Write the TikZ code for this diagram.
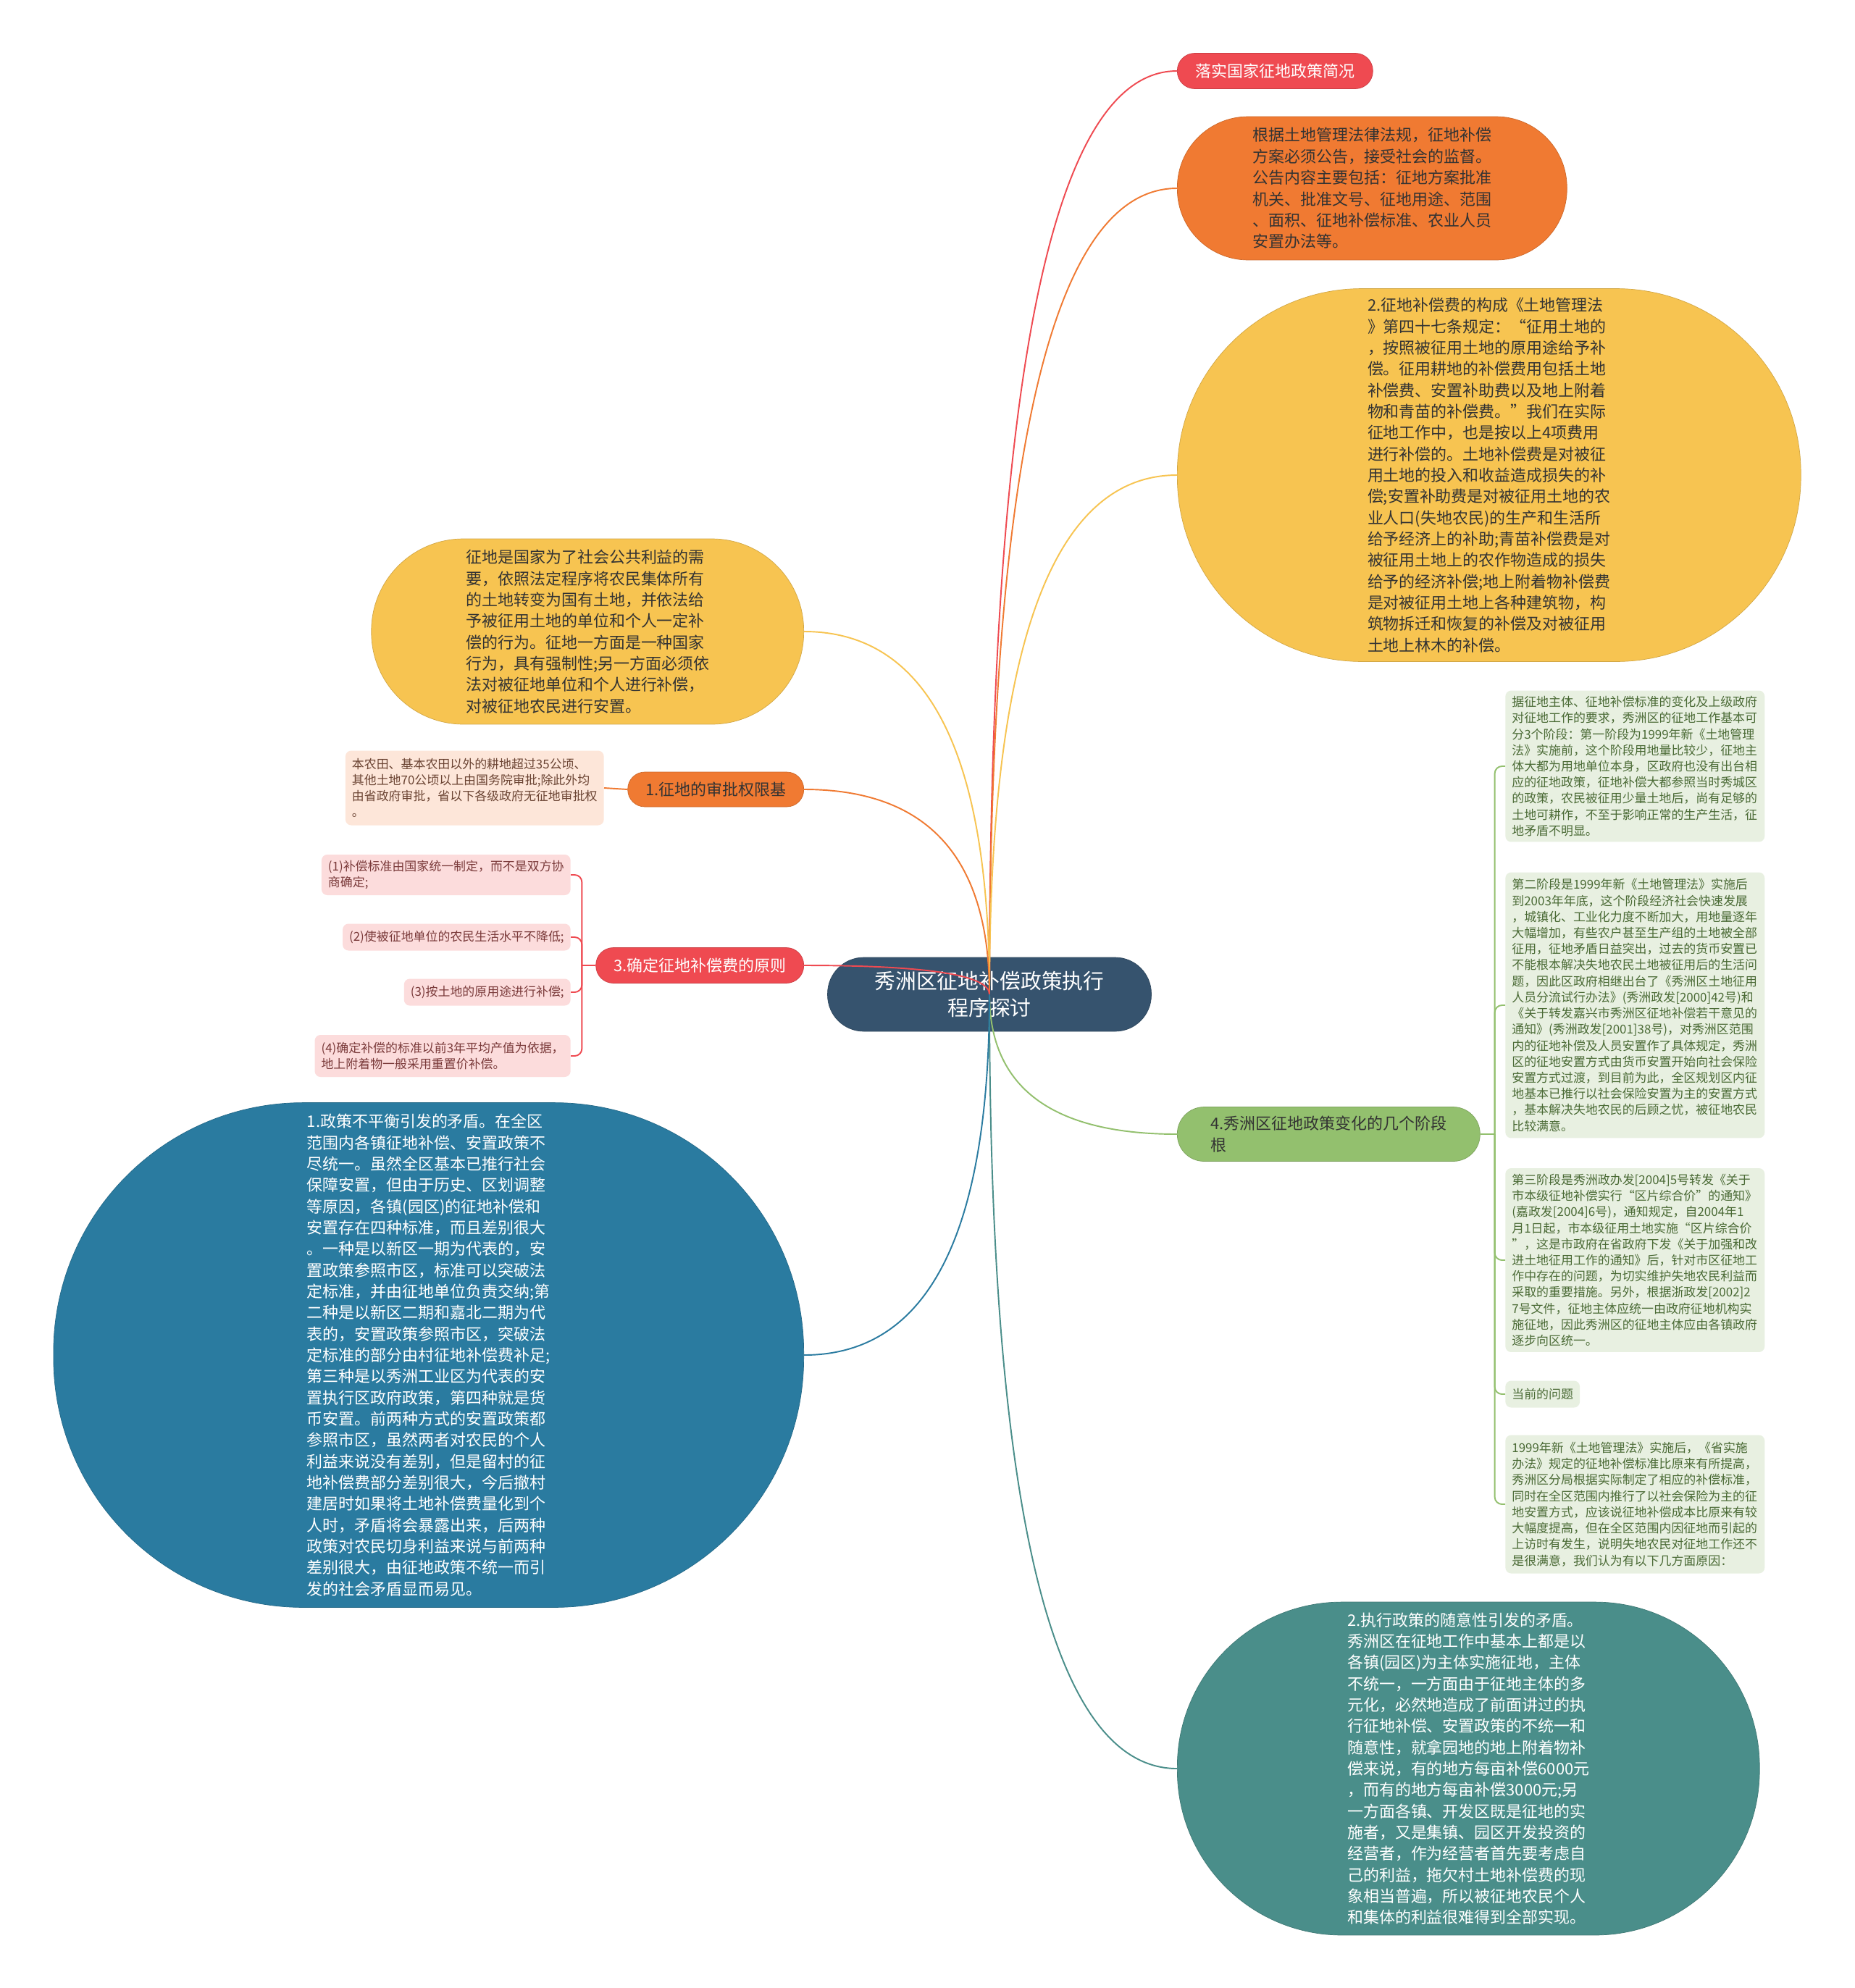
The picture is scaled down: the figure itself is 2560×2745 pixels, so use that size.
\documentclass[tikz,border=0pt]{standalone}
\usepackage{fontspec}
\setmainfont{Noto Sans CJK SC}
\usetikzlibrary{calc}

\definecolor{rootblue}{HTML}{36536E}
\definecolor{redc}{HTML}{EF4A51}
\definecolor{orangec}{HTML}{F07A32}
\definecolor{yellowc}{HTML}{F7C451}
\definecolor{greenc}{HTML}{93C06E}
\definecolor{tealc}{HTML}{4A8E8A}
\definecolor{bluec}{HTML}{2A7BA0}
\definecolor{peachc}{HTML}{FDE6D9}
\definecolor{pinkc}{HTML}{FCDCDC}
\definecolor{notegreen}{HTML}{E8F0E1}
\definecolor{peachtext}{HTML}{6B4433}
\definecolor{pinktext}{HTML}{7A3A3A}
\definecolor{greentext}{HTML}{4A6A35}

\tikzset{
  topic/.style={rectangle, inner sep=0pt, align=left, text=black!80,
    font=\fontsize{12.5}{16.7}\selectfont},
  bubble/.style={topic, fill=#1, draw=#1!85!black, line width=0.4pt},
  note/.style={rectangle, rounded corners=0.16cm, inner xsep=0.18cm, inner ysep=0pt,
    align=left, fill=#1, font=\fontsize{9.64}{12.64}\selectfont},
  link/.style={line width=1.1pt, draw=#1},
}

\begin{document}
\begin{tikzpicture}[x=0.02cm, y=-0.02cm]
  \path[use as bounding box, fill=white] (0,0) rectangle (2560,2745);

  % central topic
  \node[bubble=rootblue, text=white, align=center, font=\fontsize{16.4}{21}\selectfont,
    minimum width=8.94cm, minimum height=2.04cm, rounded corners=1.0cm] (root) at (1366,1373)
    {秀洲区征地补偿政策执行\\程序探讨};

  % right branches
  \node[bubble=redc, text=white, minimum width=5.4cm, minimum height=0.98cm,
    rounded corners=0.48cm, anchor=west] (fact) at (1625,98) {落实国家征地政策简况};
  \node[bubble=orangec, minimum width=10.76cm, minimum height=3.96cm,
    rounded corners=1.96cm, anchor=west] (notice) at (1625,260)
    {根据土地管理法律法规，征地补偿\\
     方案必须公告，接受社会的监督。\\
     公告内容主要包括：征地方案批准\\
     机关、批准文号、征地用途、范围\\
     、面积、征地补偿标准、农业人员\\
     安置办法等。};
  \node[bubble=yellowc, minimum width=17.22cm, minimum height=10.3cm,
    rounded corners=5.1cm, anchor=west] (costs) at (1625,656)
    {2.征地补偿费的构成《土地管理法\\
     》第四十七条规定：“征用土地的\\
     ，按照被征用土地的原用途给予补\\
     偿。征用耕地的补偿费用包括土地\\
     补偿费、安置补助费以及地上附着\\
     物和青苗的补偿费。”我们在实际\\
     征地工作中，也是按以上4项费用\\
     进行补偿的。土地补偿费是对被征\\
     用土地的投入和收益造成损失的补\\
     偿;安置补助费是对被征用土地的农\\
     业人口(失地农民)的生产和生活所\\
     给予经济上的补助;青苗补偿费是对\\
     被征用土地上的农作物造成的损失\\
     给予的经济补偿;地上附着物补偿费\\
     是对被征用土地上各种建筑物，构\\
     筑物拆迁和恢复的补偿及对被征用\\
     土地上林木的补偿。};
  \node[bubble=greenc, minimum width=8.36cm, minimum height=1.5cm,
    rounded corners=0.74cm, anchor=west] (stages) at (1625,1566)
    {4.秀洲区征地政策变化的几个阶段\\根};
  \node[bubble=tealc, text=white, minimum width=16.08cm, minimum height=9.2cm,
    rounded corners=4.55cm, anchor=west] (random) at (1625,2442)
    {2.执行政策的随意性引发的矛盾。\\
     秀洲区在征地工作中基本上都是以\\
     各镇(园区)为主体实施征地，主体\\
     不统一，一方面由于征地主体的多\\
     元化，必然地造成了前面讲过的执\\
     行征地补偿、安置政策的不统一和\\
     随意性，就拿园地的地上附着物补\\
     偿来说，有的地方每亩补偿6000元\\
     ，而有的地方每亩补偿3000元;另\\
     一方面各镇、开发区既是征地的实\\
     施者，又是集镇、园区开发投资的\\
     经营者，作为经营者首先要考虑自\\
     己的利益，拖欠村土地补偿费的现\\
     象相当普遍，所以被征地农民个人\\
     和集体的利益很难得到全部实现。};

  % left branches
  \node[bubble=yellowc, minimum width=11.94cm, minimum height=5.12cm,
    rounded corners=2.54cm, anchor=east] (define) at (1110,872)
    {征地是国家为了社会公共利益的需\\
     要，依照法定程序将农民集体所有\\
     的土地转变为国有土地，并依法给\\
     予被征用土地的单位和个人一定补\\
     偿的行为。征地一方面是一种国家\\
     行为，具有强制性;另一方面必须依\\
     法对被征地单位和个人进行补偿，\\
     对被征地农民进行安置。};
  \node[bubble=orangec, minimum width=4.86cm, minimum height=0.96cm,
    rounded corners=0.47cm, anchor=east] (approve) at (1110,1090) {1.征地的审批权限基};
  \node[bubble=redc, text=white, minimum width=5.74cm, minimum height=0.98cm,
    rounded corners=0.48cm, anchor=east] (principle) at (1110,1333) {3.确定征地补偿费的原则};
  \node[bubble=bluec, text=white, minimum width=20.72cm, minimum height=13.94cm,
    rounded corners=6.9cm, anchor=east] (imbalance) at (1110,1871)
    {1.政策不平衡引发的矛盾。在全区\\
     范围内各镇征地补偿、安置政策不\\
     尽统一。虽然全区基本已推行社会\\
     保障安置，但由于历史、区划调整\\
     等原因，各镇(园区)的征地补偿和\\
     安置存在四种标准，而且差别很大\\
     。一种是以新区一期为代表的，安\\
     置政策参照市区，标准可以突破法\\
     定标准，并由征地单位负责交纳;第\\
     二种是以新区二期和嘉北二期为代\\
     表的，安置政策参照市区，突破法\\
     定标准的部分由村征地补偿费补足;\\
     第三种是以秀洲工业区为代表的安\\
     置执行区政府政策，第四种就是货\\
     币安置。前两种方式的安置政策都\\
     参照市区，虽然两者对农民的个人\\
     利益来说没有差别，但是留村的征\\
     地补偿费部分差别很大，今后撤村\\
     建居时如果将土地补偿费量化到个\\
     人时，矛盾将会暴露出来，后两种\\
     政策对农民切身利益来说与前两种\\
     差别很大，由征地政策不统一而引\\
     发的社会矛盾显而易见。};

  % detail notes
  \node[note=peachc, text=peachtext, minimum height=2.06cm, anchor=east] (approvenote) at (834,1088)
    {本农田、基本农田以外的耕地超过35公顷、\\
     其他土地70公顷以上由国务院审批;除此外均\\
     由省政府审批，省以下各级政府无征地审批权\\
     。};
  \node[note=pinkc, text=pinktext, minimum height=1.12cm, anchor=east] (p1) at (788,1208)
    {(1)补偿标准由国家统一制定，而不是双方协\\商确定;};
  \node[note=pinkc, text=pinktext, minimum height=0.74cm, anchor=east] (p2) at (788,1294)
    {(2)使被征地单位的农民生活水平不降低;};
  \node[note=pinkc, text=pinktext, minimum height=0.74cm, anchor=east] (p3) at (788,1370)
    {(3)按土地的原用途进行补偿;};
  \node[note=pinkc, text=pinktext, minimum height=1.16cm, anchor=east] (p4) at (788,1458)
    {(4)确定补偿的标准以前3年平均产值为依据，\\地上附着物一般采用重置价补偿。};

  \node[note=notegreen, text=greentext, text width=6.8cm, minimum height=4.18cm, anchor=west] (g1) at (2078,1058)
    {据征地主体、征地补偿标准的变化及上级政府\\
     对征地工作的要求，秀洲区的征地工作基本可\\
     分3个阶段：第一阶段为1999年新《土地管理\\
     法》实施前，这个阶段用地量比较少，征地主\\
     体大都为用地单位本身，区政府也没有出台相\\
     应的征地政策，征地补偿大都参照当时秀城区\\
     的政策，农民被征用少量土地后，尚有足够的\\
     土地可耕作，不至于影响正常的生产生活，征\\
     地矛盾不明显。};
  \node[note=notegreen, text=greentext, text width=6.8cm, minimum height=7.34cm, anchor=west] (g2) at (2078,1388)
    {第二阶段是1999年新《土地管理法》实施后\\
     到2003年年底，这个阶段经济社会快速发展\\
     ，城镇化、工业化力度不断加大，用地量逐年\\
     大幅增加，有些农户甚至生产组的土地被全部\\
     征用，征地矛盾日益突出，过去的货币安置已\\
     不能根本解决失地农民土地被征用后的生活问\\
     题，因此区政府相继出台了《秀洲区土地征用\\
     人员分流试行办法》(秀洲政发[2000]42号)和\\
     《关于转发嘉兴市秀洲区征地补偿若干意见的\\
     通知》(秀洲政发[2001]38号)，对秀洲区范围\\
     内的征地补偿及人员安置作了具体规定，秀洲\\
     区的征地安置方式由货币安置开始向社会保险\\
     安置方式过渡，到目前为此，全区规划区内征\\
     地基本已推行以社会保险安置为主的安置方式\\
     ，基本解决失地农民的后顾之忧，被征地农民\\
     比较满意。};
  \node[note=notegreen, text=greentext, text width=6.8cm, minimum height=5.08cm, anchor=west] (g3) at (2078,1740)
    {第三阶段是秀洲政办发[2004]5号转发《关于\\
     市本级征地补偿实行“区片综合价”的通知》\\
     (嘉政发[2004]6号)，通知规定，自2004年1\\
     月1日起，市本级征用土地实施“区片综合价\\
     ”，这是市政府在省政府下发《关于加强和改\\
     进土地征用工作的通知》后，针对市区征地工\\
     作中存在的问题，为切实维护失地农民利益而\\
     采取的重要措施。另外，根据浙政发[2002]2\\
     7号文件，征地主体应统一由政府征地机构实\\
     施征地，因此秀洲区的征地主体应由各镇政府\\
     逐步向区统一。};
  \node[note=notegreen, text=greentext, minimum height=0.74cm, anchor=west] (g4) at (2078,1925) {当前的问题};
  \node[note=notegreen, text=greentext, text width=6.8cm, minimum height=3.82cm, anchor=west] (g5) at (2078,2077)
    {1999年新《土地管理法》实施后，《省实施\\
     办法》规定的征地补偿标准比原来有所提高，\\
     秀洲区分局根据实际制定了相应的补偿标准，\\
     同时在全区范围内推行了以社会保险为主的征\\
     地安置方式，应该说征地补偿成本比原来有较\\
     大幅度提高，但在全区范围内因征地而引起的\\
     上访时有发生，说明失地农民对征地工作还不\\
     是很满意，我们认为有以下几方面原因：};

  % main connectors
  \foreach \n/\a/\c in {fact/west/redc, notice/west/orangec, costs/west/yellowc,
      stages/west/greenc, random/west/tealc, define/east/yellowc,
      approve/east/orangec, principle/east/redc, imbalance/east/bluec} {
    \coordinate (k) at (root.center |- \n.\a);
    \draw[link=\c] (root.center) .. controls ($(root.center)!0.667!(k)$)
      and ($(\n.\a)!0.667!(k)$) .. (\n.\a);
  }

  % sub connectors
  \draw[link=orangec] (approve.west) -- (approvenote.east);
  \coordinate (pj) at ($(principle.west)+(-19,0)$);
  \draw[link=redc] (principle.west) -- (pj);
  \foreach \p in {p1,p2,p3,p4}
    \draw[link=redc, rounded corners=0.2cm] (pj) |- (\p.east);
  \coordinate (gj) at ($(stages.east)+(20,0)$);
  \draw[link=greenc] (stages.east) -- (gj);
  \foreach \g in {g1,g2,g3,g4,g5}
    \draw[link=greenc, rounded corners=0.2cm] (gj) |- (\g.west);
\end{tikzpicture}
\end{document}
